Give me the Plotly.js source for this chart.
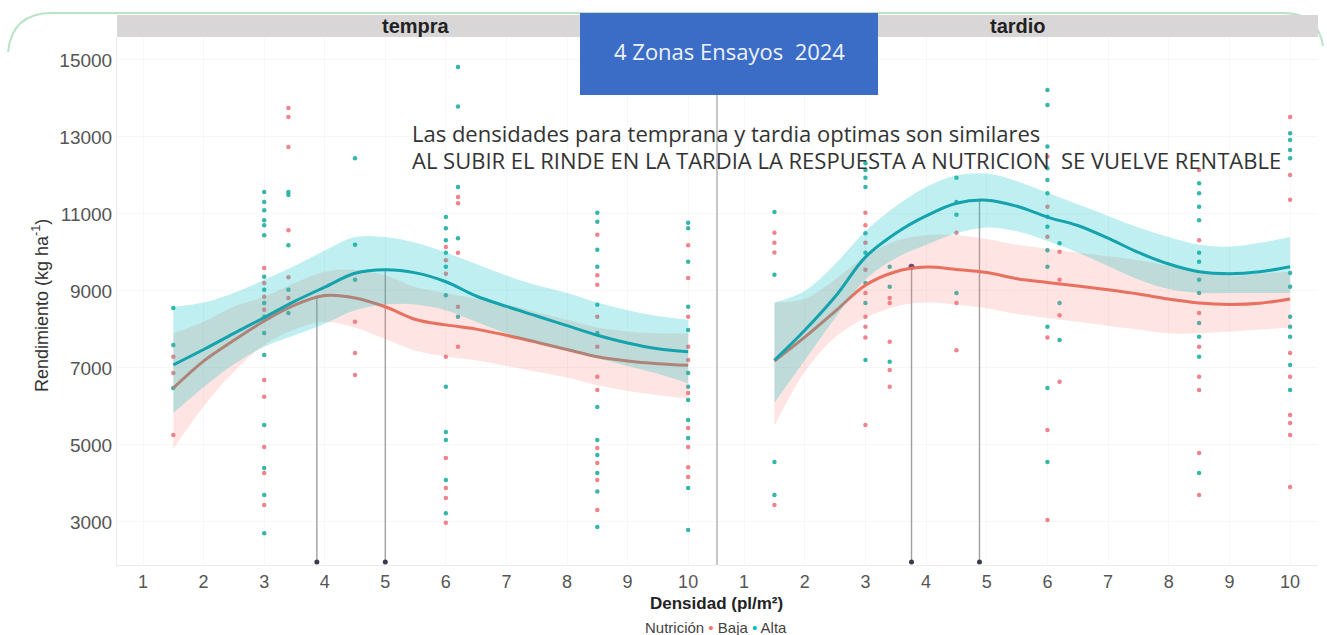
<!DOCTYPE html>
<html>
<head>
<meta charset="utf-8">
<script src="https://cdn.plot.ly/plotly-3.0.1.min.js"></script>
<style>
  html, body { margin: 0; padding: 0; background: #ffffff; }
  #chart { width: 1327px; height: 635px; }
</style>
</head>
<body>
<div id="chart"></div>
<script>
// ---------- DATA ----------
const panelNames = ["tempra", "tardio"];
const tickVals = [1, 2, 3, 4, 5, 6, 7, 8, 9, 10];
const yTickVals = [3000, 5000, 7000, 9000, 11000, 13000, 15000];
const yTickText = ["3000", "5000", "7000", "9000", "11000", "13000", "15000"];

// densities where observations were taken
const densities = [1.5, 3, 3.4, 4.5, 6, 6.2, 8.5, 10];

// observations, one list per density (temprano)
const tempBajaPts = [
  [7290, 6870, 5260],
  [9600, 9210, 8850, 8510, 6690, 6250, 4950, 4270, 3440],
  [13750, 13520, 12740, 10580, 9360, 8820],
  [8200, 7390, 6820],
  [10140, 9800, 9450, 7290, 4660, 3880, 3620, 2980],
  [11440, 11280, 9990, 8590, 7550],
  [10460, 9410, 9160, 8330, 7550, 6770, 6430, 4920, 4530, 4090, 3310],
  [10190, 9340, 8330, 7550, 7210, 6350, 5440, 4950, 4420, 4170]
];
const tempAltaPts = [
  [8560, 7600, 6480],
  [11570, 11310, 11100, 10840, 10710, 10450, 9370, 9030, 8690, 8330, 7910, 7340, 5520, 4400, 3700, 2710],
  [11570, 11490, 10190, 9030, 8430],
  [12450, 10200, 9290],
  [10920, 10630, 10320, 9990, 9630, 8890, 6510, 5340, 5130, 4090, 3230],
  [14820, 13790, 11700, 10370, 8330],
  [11030, 10800, 10070, 9630, 8640, 7910, 5990, 5130, 4740, 4270, 3790, 2870],
  [10770, 10630, 9760, 8590, 7990, 6870, 6510, 6170, 5650, 5180, 3880, 2790]
];
// observations (tardio)
const tardBajaPts = [
  [10510, 10250, 10000, 3440],
  [11030, 10710, 10250, 9550, 8950, 8330, 8070, 7790, 5520],
  [8820, 8690, 7680, 6950, 6510],
  [10510, 8690, 7460],
  [12490, 11190, 10410, 7790, 5390, 3050],
  [10020, 9290, 8370, 6640],
  [12140, 10320, 8430, 7550, 6770, 6430, 4790, 3700],
  [13520, 12010, 11370, 7390, 6770, 5780, 5570, 5260, 3910]
];
const tardAltaPts = [
  [11050, 9420, 4560, 3700],
  [12320, 12140, 11940, 11700, 10500, 9990, 9210, 8690, 7210],
  [9630, 9110, 7160],
  [11940, 11310, 10980, 8950],
  [14220, 13830, 12750, 12190, 11880, 11540, 10930, 10670, 10060, 9630, 8070, 6480, 4560],
  [10240, 8690, 7730],
  [11800, 11540, 11190, 10840, 9990, 9760, 9290, 8950, 8170, 7810, 7290, 4270],
  [13100, 12920, 12660, 12450, 9470, 9110, 8330, 8070, 7810, 7080, 6430]
];

// smooth fits (loess-like) and confidence bands
const curveX = [1.5, 2, 2.5, 3, 3.5, 4, 4.5, 5, 5.5, 6, 6.5, 7, 7.5, 8, 8.5, 9, 9.5, 10];

const tempBajaFit = [6480, 7180, 7720, 8220, 8630, 8880, 8820, 8590, 8260, 8120, 8010, 7850, 7670, 7480, 7290, 7180, 7110, 7070];
const tempBajaLo  = [4900, 6000, 6900, 7600, 8000, 8200, 8050, 7750, 7450, 7300, 7200, 7050, 6900, 6750, 6550, 6400, 6300, 6200];
const tempBajaHi  = [7900, 8200, 8600, 8850, 9200, 9500, 9550, 9400, 9100, 8950, 8800, 8650, 8450, 8250, 8050, 7950, 7900, 7900];
const tempAltaFit = [7080, 7480, 7900, 8310, 8730, 9100, 9460, 9550, 9470, 9240, 8870, 8600, 8350, 8100, 7850, 7650, 7500, 7420];
const tempAltaLo  = [5830, 6500, 7100, 7550, 7850, 8150, 8500, 8650, 8650, 8500, 8200, 7900, 7650, 7450, 7250, 7050, 6850, 6600];
const tempAltaHi  = [8590, 8700, 8950, 9290, 9650, 10050, 10400, 10400, 10250, 10000, 9700, 9400, 9150, 8950, 8700, 8500, 8350, 8250];

const tardBajaFit = [7180, 7800, 8470, 9150, 9500, 9620, 9560, 9480, 9320, 9220, 9130, 9030, 8920, 8790, 8690, 8650, 8680, 8790];
const tardBajaLo  = [5500, 6900, 7800, 8300, 8600, 8700, 8650, 8550, 8400, 8300, 8200, 8100, 8000, 7900, 7900, 7950, 8000, 8050];
const tardBajaHi  = [8700, 8800, 9300, 9900, 10300, 10450, 10450, 10350, 10200, 10100, 10000, 9900, 9800, 9650, 9500, 9400, 9450, 9500];
const tardAltaFit = [7200, 7980, 8850, 9880, 10500, 10950, 11280, 11360, 11200, 10920, 10700, 10370, 10000, 9700, 9500, 9450, 9500, 9630];
const tardAltaLo  = [6100, 7200, 8300, 9300, 9850, 10200, 10500, 10650, 10550, 10300, 10000, 9650, 9300, 9050, 8950, 8950, 8950, 8950];
const tardAltaHi  = [8700, 9000, 9700, 10550, 11200, 11700, 12000, 12050, 11850, 11550, 11250, 10950, 10650, 10400, 10200, 10150, 10250, 10400];

// optimum density markers (Baja, Alta)
const optTempX = [3.87, 5.0];
const optTempTop = [8880, 9550];
const optTardX = [3.76, 4.88];
const optTardTop = [9630, 11360];
const optBottom = 1960;

// ---------- STYLE ----------
const RED = "#F8766D";
const TEAL = "#00BFC4";
const redPt = "rgba(236,110,120,0.85)";
const tealPt = "rgba(20,170,155,0.85)";
const redLine = "#e8705f";
const tealLine = "#14a2ad";
const redFill = "rgba(248,118,109,0.20)";
const tealFill = "rgba(0,191,196,0.25)";

function flatten(cols) {
  const xs = [], ys = [];
  cols.forEach((c, i) => c.forEach(v => { xs.push(densities[i]); ys.push(v); }));
  return { xs, ys };
}

function pointsTrace(cols, color, xa) {
  const f = flatten(cols);
  return { type: "scatter", mode: "markers", x: f.xs, y: f.ys, xaxis: xa, yaxis: "y",
           marker: { size: 4.5, color: color }, hoverinfo: "skip", showlegend: false };
}

function bandTraces(lo, hi, fit, fill, lineColor, xa) {
  return [
    { type: "scatter", mode: "lines", x: curveX, y: lo, xaxis: xa, yaxis: "y",
      line: { width: 0, shape: "spline", color: "rgba(0,0,0,0)" }, hoverinfo: "skip", showlegend: false },
    { type: "scatter", mode: "lines", x: curveX, y: hi, xaxis: xa, yaxis: "y", fill: "tonexty",
      fillcolor: fill, line: { width: 0, shape: "spline", color: "rgba(0,0,0,0)" }, hoverinfo: "skip", showlegend: false },
    { type: "scatter", mode: "lines", x: curveX, y: fit, xaxis: xa, yaxis: "y",
      line: { width: 3, shape: "spline", color: lineColor }, hoverinfo: "skip", showlegend: false }
  ];
}

function optTraces(xs, tops, xa, topDot) {
  const out = [];
  xs.forEach((xv, i) => {
    out.push({ type: "scatter", mode: "lines", x: [xv, xv], y: [tops[i], optBottom], xaxis: xa, yaxis: "y",
      line: { width: 1.4, color: "#a0a0a0" }, hoverinfo: "skip", showlegend: false });
    out.push({ type: "scatter", mode: "markers", x: [xv], y: [optBottom], xaxis: xa, yaxis: "y",
      marker: { size: 5, color: "#3a3a4a" }, hoverinfo: "skip", showlegend: false });
  });
  if (topDot) {
    out.push({ type: "scatter", mode: "markers", x: [xs[0]], y: [tops[0]], xaxis: xa, yaxis: "y",
      marker: { size: 6, color: "#4a3f7a" }, hoverinfo: "skip", showlegend: false });
  }
  return out;
}

const data = [].concat(
  [pointsTrace(tempBajaPts, redPt, "x"), pointsTrace(tempAltaPts, tealPt, "x"),
   pointsTrace(tardBajaPts, redPt, "x2"), pointsTrace(tardAltaPts, tealPt, "x2")],
  optTraces(optTempX, optTempTop, "x", false),
  optTraces(optTardX, optTardTop, "x2", true),
  bandTraces(tempBajaLo, tempBajaHi, tempBajaFit, redFill, redLine, "x"),
  bandTraces(tempAltaLo, tempAltaHi, tempAltaFit, tealFill, tealLine, "x"),
  bandTraces(tardBajaLo, tardBajaHi, tardBajaFit, redFill, redLine, "x2"),
  bandTraces(tardAltaLo, tardAltaHi, tardAltaFit, tealFill, tealLine, "x2")
);

// pixel helpers for decoration placement (plot area 117..1318 x 37..565)
const PX0 = 117, PW = 1201, PY1 = 565, PH = 528;
const px = v => (v - PX0) / PW;
const py = v => (PY1 - v) / PH;

const yTickFont = { family: "Liberation Sans, Arial, sans-serif", size: 19, color: "#555555" };
const xTickFont = { family: "Liberation Sans, Arial, sans-serif", size: 18, color: "#555555" };
const xaxisBase = {
  range: [0.57, 10.46], tickvals: tickVals, ticks: "", showgrid: true, gridcolor: "#f7f7f7",
  zeroline: false, showline: true, linecolor: "#ececec", linewidth: 1, tickfont: xTickFont, anchor: "y"
};

const borderPath = "M " + px(8) + "," + py(52) + " Q " + px(12) + "," + py(13) + " " + px(52) + "," + py(13) +
  " L " + px(1283) + "," + py(13) + " Q " + px(1318) + "," + py(13) + " " + px(1323) + "," + py(46);

function note(x, y, text, font, extra) {
  return Object.assign({ xref: "paper", yref: "paper", x: px(x), y: py(y), text: text, showarrow: false,
    xanchor: "center", yanchor: "middle", font: font }, extra || {});
}

const layout = {
  width: 1327, height: 635,
  margin: { l: PX0, r: 9, t: 37, b: 70, pad: 0 },
  paper_bgcolor: "#ffffff", plot_bgcolor: "#ffffff",
  showlegend: false,
  xaxis: Object.assign({}, xaxisBase, { domain: [0, px(716)] }),
  xaxis2: Object.assign({}, xaxisBase, { domain: [px(718), 1] }),
  yaxis: {
    range: [1883, 15597], tickvals: yTickVals, ticktext: yTickText, ticks: "", showgrid: true, gridcolor: "#f7f7f7",
    zeroline: false, showline: true, linecolor: "#ececec", tickfont: yTickFont
  },
  shapes: [
    { type: "path", xref: "paper", yref: "paper", path: borderPath, line: { color: "#b9e2c8", width: 2 } },
    { type: "rect", xref: "paper", yref: "paper", x0: 0, x1: px(716), y0: 1, y1: py(15),
      fillcolor: "#d8d6d7", line: { width: 0 } },
    { type: "rect", xref: "paper", yref: "paper", x0: px(718), x1: 1, y0: 1, y1: py(15),
      fillcolor: "#d8d6d7", line: { width: 0 } },
    { type: "line", xref: "paper", yref: "paper", x0: px(717), x1: px(717), y0: 0, y1: py(95),
      line: { color: "#b4b4b4", width: 1.5 } },
    { type: "rect", xref: "paper", yref: "paper", x0: px(580), x1: px(878), y0: py(95), y1: py(13),
      fillcolor: "#3b6dc7", line: { width: 0 } }
  ],
  annotations: [
    note(416, 26, "<b>" + panelNames[0] + "</b>", { family: "Liberation Sans, Arial, sans-serif", size: 20, color: "#222222" }),
    note(1018, 26, "<b>" + panelNames[1] + "</b>", { family: "Liberation Sans, Arial, sans-serif", size: 20, color: "#222222" }),
    note(729, 51, "4 Zonas Ensayos  2024", { family: "Open Sans, sans-serif", size: 22, color: "#eef2ff" }),
    note(410, 133, "Las densidades para temprana y tardia optimas son similares",
      { family: "Open Sans, sans-serif", size: 22, color: "#333333" }, { xanchor: "left" }),
    note(410, 160, "AL SUBIR EL RINDE EN LA TARDIA LA RESPUESTA A NUTRICION  SE VUELVE RENTABLE",
      { family: "Open Sans, sans-serif", size: 22, color: "#333333" }, { xanchor: "left" }),
    note(40, 306, "Rendimiento (kg ha<sup>-1</sup>)",
      { family: "Liberation Sans, Arial, sans-serif", size: 18, color: "#333333" }, { textangle: -90 }),
    note(716, 603, "<b>Densidad (pl/m²)</b>", { family: "Liberation Sans, Arial, sans-serif", size: 17, color: "#222222" }),
    note(716, 627, "Nutrición <span style='color:" + RED + "'>•</span> Baja <span style='color:" + TEAL + "'>•</span> Alta",
      { family: "Liberation Sans, Arial, sans-serif", size: 15, color: "#444444" })
  ]
};

Plotly.newPlot("chart", data, layout, { staticPlot: true, displayModeBar: false });
</script>
</body>
</html>
